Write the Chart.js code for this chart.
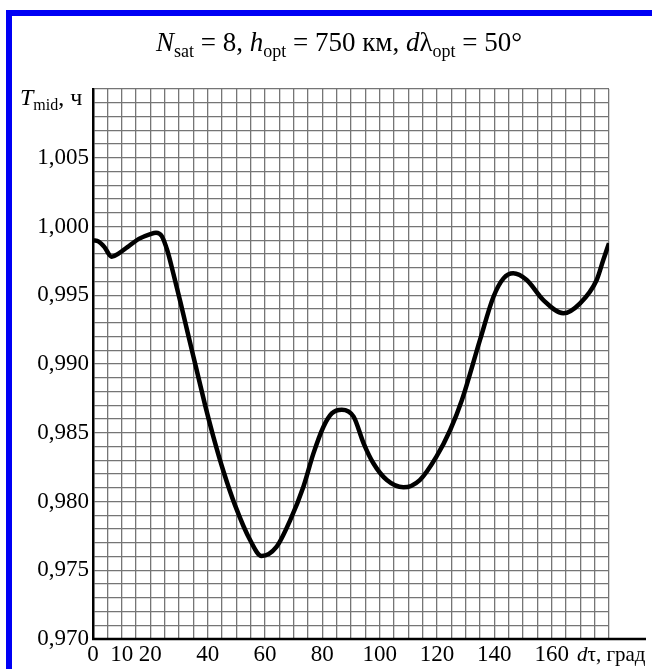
<!DOCTYPE html>
<html>
<head>
<meta charset="utf-8">
<script src="https://cdn.jsdelivr.net/npm/chart.js@4.4.1/dist/chart.umd.min.js"></script>
<style>
	html, body { margin: 0; padding: 0; background: #fff; overflow: hidden; }
	#frame {
		position: absolute; left: 6px; top: 10px; width: 700px; height: 700px;
		border-left: 6px solid #0000f5; border-top: 6px solid #0000f5;
	}
	#wrap { position: absolute; left: 0; top: 0; width: 652px; height: 669px; }
</style>
</head>
<body>
<div id="frame"></div>
<div id="wrap"><canvas id="myChart"></canvas></div>
<script>
// dτ, град
const dtValues = [0, 2, 4, 6.5, 9, 12, 16, 20, 22, 24, 26, 28, 30.5, 33, 36, 39, 42, 45.5, 49.6, 54.8,
	58.8, 64, 68.8, 73.4, 76.9, 80.4, 83.3, 86.8, 90.9, 94.4, 97.8, 102.5, 108.3, 114, 119.8, 124.6,
	128.7, 135, 139.7, 143.2, 146.6, 151.3, 157.1, 164.1, 169.9, 175.7, 178, 180];
// T_mid, ч
const tMidValues = [0.9990, 0.9989, 0.9985, 0.9978, 0.99805, 0.9985, 0.9991, 0.99945, 0.99955, 0.9993,
	0.9982, 0.9966, 0.9945, 0.9923, 0.9897, 0.9871, 0.9847, 0.9822, 0.9797, 0.9772,
	0.97604, 0.9767, 0.97865, 0.98108, 0.9835, 0.98544, 0.98641, 0.98668, 0.98617, 0.98423,
	0.98278, 0.98156, 0.98103, 0.98156, 0.98326, 0.9852, 0.98738, 0.99175, 0.99489, 0.99623,
	0.9966, 0.99611, 0.99465, 0.99369, 0.99441, 0.99611, 0.99756, 0.99878];

const xTickValues = [0, 10, 20, 40, 60, 80, 100, 120, 140, 160];
const yTickValues = [0.970, 0.975, 0.980, 0.985, 0.990, 0.995, 1.000, 1.005];
const yTickLabels = ["0,970", "0,975", "0,980", "0,985", "0,990", "0,995", "1,000", "1,005"];

const SERIF = "'Liberation Serif', 'Times New Roman', serif";
const GRID = "#757575";

// draws a line of mixed text: [{t, italic, sub}]
function drawRuns(ctx, x, y, runs, size, align) {
	const subSize = Math.round(size * 0.66);
	const fontOf = (r) => (r.italic ? "italic " : "") + (r.sub ? subSize : size) + "px " + SERIF;
	let total = 0;
	runs.forEach((r) => {
		ctx.font = fontOf(r);
		total += ctx.measureText(r.t).width;
	});
	let cx = align === "center" ? x - total / 2 : x;
	ctx.textAlign = "left";
	ctx.textBaseline = "alphabetic";
	ctx.fillStyle = "#000";
	runs.forEach((r) => {
		ctx.font = fontOf(r);
		ctx.fillText(r.t, cx, y + (r.sub ? size * 0.22 : 0));
		cx += ctx.measureText(r.t).width;
	});
}

const labelsPlugin = {
	id: "labels",
	afterDraw(chart) {
		const ctx = chart.ctx;
		const area = chart.chartArea;
		ctx.save();
		// bottom axis line, runs past the grid
		ctx.strokeStyle = "#000";
		ctx.lineWidth = 2.5;
		ctx.beginPath();
		ctx.moveTo(area.left - 1, area.bottom);
		ctx.lineTo(646, area.bottom);
		ctx.stroke();

		drawRuns(ctx, 339, 51, [
			{ t: "N", italic: true }, { t: "sat", sub: true }, { t: " = 8, " },
			{ t: "h", italic: true }, { t: "opt", sub: true }, { t: " = 750 км, " },
			{ t: "d", italic: true }, { t: "λ" }, { t: "opt", sub: true }, { t: " = 50°" },
		], 27, "center");

		drawRuns(ctx, 20, 105, [
			{ t: "T", italic: true }, { t: "mid", sub: true }, { t: ", ч" },
		], 24, "left");

		drawRuns(ctx, 577, 661, [
			{ t: "d", italic: true }, { t: "τ, град" },
		], 21, "left");
		ctx.restore();
	},
};

function initChart() {
	const ctx = document.getElementById("myChart");
	const points = dtValues.map((x, i) => ({ x: x, y: tMidValues[i] }));

	return new Chart(ctx, {
		type: "line",
		data: {
			datasets: [
				{
					data: points,
					borderColor: "#000",
					borderWidth: 4.5,
					pointRadius: 0,
					cubicInterpolationMode: "monotone",
					fill: false,
				},
			],
		},
		options: {
			responsive: true,
			maintainAspectRatio: false,
			animation: false,
			events: [],
			layout: { padding: { left: 0, top: 89, right: 43, bottom: 0 } },
			plugins: { legend: { display: false }, title: { display: false }, tooltip: { enabled: false } },
			scales: {
				x: {
					type: "linear",
					min: 0,
					max: 180,
					afterFit: (scale) => { scale.height = 30; },
					border: { display: false },
					grid: { color: GRID, lineWidth: 1.3, drawTicks: false },
					ticks: {
						stepSize: 5,
						autoSkip: false,
						maxRotation: 0,
						padding: 2,
						color: "#000",
						font: { family: SERIF, size: 23 },
						callback: (value) => (xTickValues.includes(value) ? String(value) : ""),
					},
				},
				y: {
					min: 0.970,
					max: 1.010,
					afterFit: (scale) => { scale.width = 93; },
					border: { display: true, color: "#000", width: 2.5 },
					grid: { color: GRID, lineWidth: 1.3, drawTicks: false },
					ticks: {
						stepSize: 0.001,
						autoSkip: false,
						padding: 4,
						color: "#000",
						font: { family: SERIF, size: 23 },
						callback: (value) => {
							const i = yTickValues.findIndex((v) => Math.abs(v - value) < 1e-6);
							return i >= 0 ? yTickLabels[i] : "";
						},
					},
				},
			},
		},
		plugins: [labelsPlugin],
	});
}

initChart();
</script>
</body>
</html>
